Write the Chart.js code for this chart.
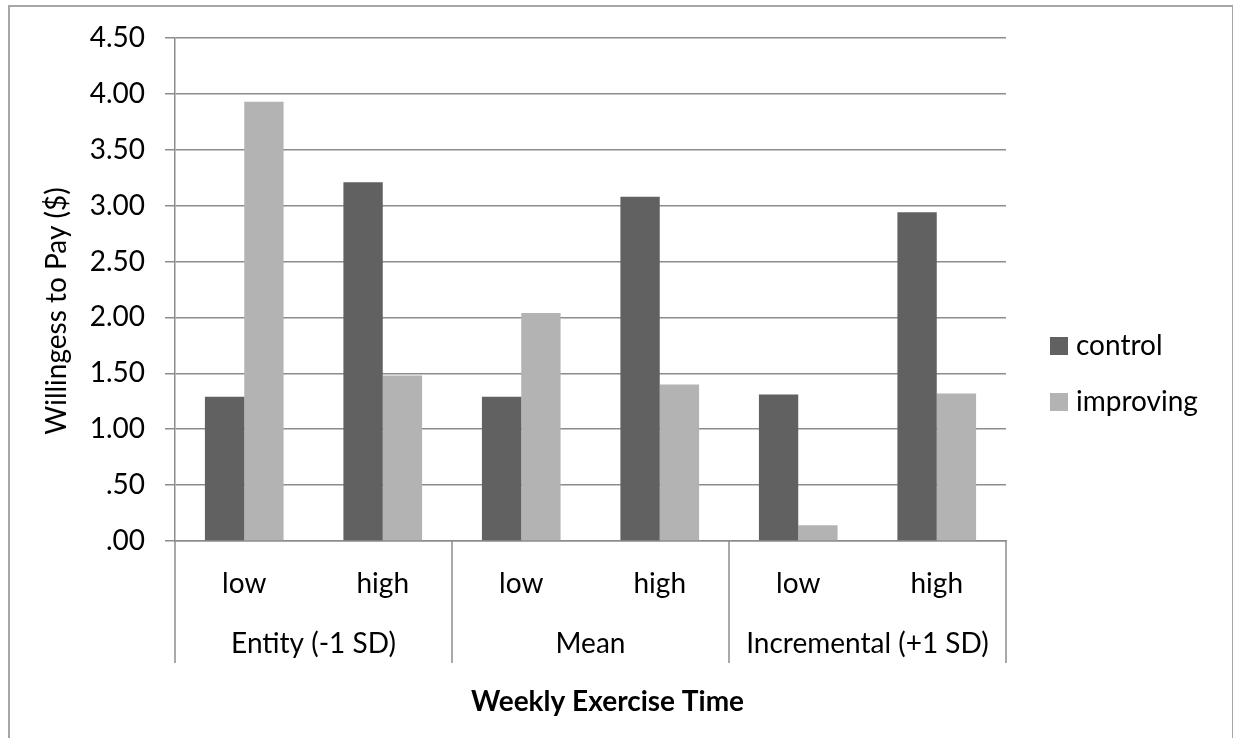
<!DOCTYPE html>
<html>
<head>
<meta charset="utf-8">
<script src="https://cdn.jsdelivr.net/npm/chart.js@4"></script>
<style>
  body { margin: 0; background: #fff; }
  .wrap { position: relative; width: 1233px; height: 738px; overflow: hidden; }
  .frame { position: absolute; left: 8px; top: 5px; width: 1222px; height: 760px; border: 2px solid #a6a6a6; pointer-events: none; }
  #legend { position: absolute; left: 1050px; top: 316px; font-family: Lato, sans-serif; font-size: 28px; line-height: 56px; color: #000; }
  #legend .box { display: inline-block; width: 18px; height: 18px; margin-right: 8px; }
</style>
</head>
<body>
<div class="wrap">
  <canvas id="myChart" width="1233" height="738"></canvas>
  <div id="legend"></div>
  <div class="frame"></div>
</div>
<script>
var categories = ['low', 'high', 'low', 'high', 'low', 'high'];
var groups = ['Entity (-1 SD)', 'Mean', 'Incremental (+1 SD)'];
var seriesNames = ['control', 'improving'];
var controlValues = [1.29, 3.21, 1.29, 3.08, 1.31, 2.94];
var improvingValues = [3.93, 1.48, 2.04, 1.40, 0.14, 1.32];
var seriesColors = ['#616161', '#b3b3b3'];
var yTickLabels = ['.00', '.50', '1.00', '1.50', '2.00', '2.50', '3.00', '3.50', '4.00', '4.50'];

var gridColor = '#8c8c8c';
var font = { family: 'Lato', size: 28 };

// group separators below the x axis (low/high pairs)
var separators = {
  id: 'separators',
  afterDraw: function(chart) {
    var x = chart.scales.x, x2 = chart.scales.x2;
    var half = (x.getPixelForValue(1) - x.getPixelForValue(0)) / 2;
    var ctx = chart.ctx;
    ctx.save();
    ctx.strokeStyle = gridColor;
    ctx.lineWidth = 1.5;
    for (var i = 0; i <= categories.length; i += 2) {
      var px = i < categories.length ? x.getPixelForValue(i) - half : x.getPixelForValue(i - 1) + half;
      ctx.beginPath();
      ctx.moveTo(px, x.top);
      ctx.lineTo(px, x2.top + 50);
      ctx.stroke();
    }
    ctx.restore();
  }
};

var sets = [controlValues, improvingValues].map(function(vals, k) {
  return { label: seriesNames[k], data: vals, backgroundColor: seriesColors[k], borderWidth: 0 };
});

new Chart(document.getElementById('myChart'), {
  type: 'bar',
  data: { labels: categories, datasets: sets },
  options: {
    responsive: false,
    animation: false,
    layout: { padding: { left: 20, right: 227, top: 38, bottom: 0 } },
    datasets: { bar: { categoryPercentage: 0.568, barPercentage: 1.0 } },
    plugins: { legend: { display: false }, tooltip: { enabled: false } },
    scales: {
      x: {
        offset: true,
        grid: { display: false, drawTicks: false },
        border: { display: true, color: gridColor, width: 1.5 },
        ticks: { font: font, color: '#000', padding: 26, maxRotation: 0, autoSkip: false },
        afterFit: function(s) { s.height = 72; }
      },
      x2: {
        type: 'category',
        labels: groups,
        position: 'bottom',
        offset: true,
        grid: { display: false, drawTicks: false },
        border: { display: false },
        ticks: { font: font, color: '#000', padding: 14, maxRotation: 0, autoSkip: false },
        // leading spaces nudge the title right, as in the original
        title: { display: true, text: '     Weekly Exercise Time', color: '#000',
                 font: { family: 'Lato', size: 28, weight: 'bold' }, padding: { top: 0, bottom: 19 } },
        afterFit: function(s) { s.height = 125; }
      },
      y: {
        min: 0,
        max: 4.5,
        ticks: { stepSize: 0.5, font: font, color: '#000', padding: 20,
                 callback: function(v, i) { return yTickLabels[i]; } },
        grid: { color: gridColor, lineWidth: 1.5, tickLength: 10 },
        border: { color: gridColor, width: 1.5 },
        title: { display: true, text: 'Willingess to Pay ($)      ', color: '#000', font: font, padding: { top: 20, bottom: 0 } },
        afterFit: function(s) { s.width = 155; }
      }
    }
  },
  plugins: [separators]
});

var legend = document.getElementById('legend');
seriesNames.forEach(function(name, k) {
  var row = document.createElement('div');
  var box = document.createElement('span');
  box.className = 'box';
  box.style.background = seriesColors[k];
  row.appendChild(box);
  row.appendChild(document.createTextNode(name));
  legend.appendChild(row);
});
</script>
</body>
</html>
